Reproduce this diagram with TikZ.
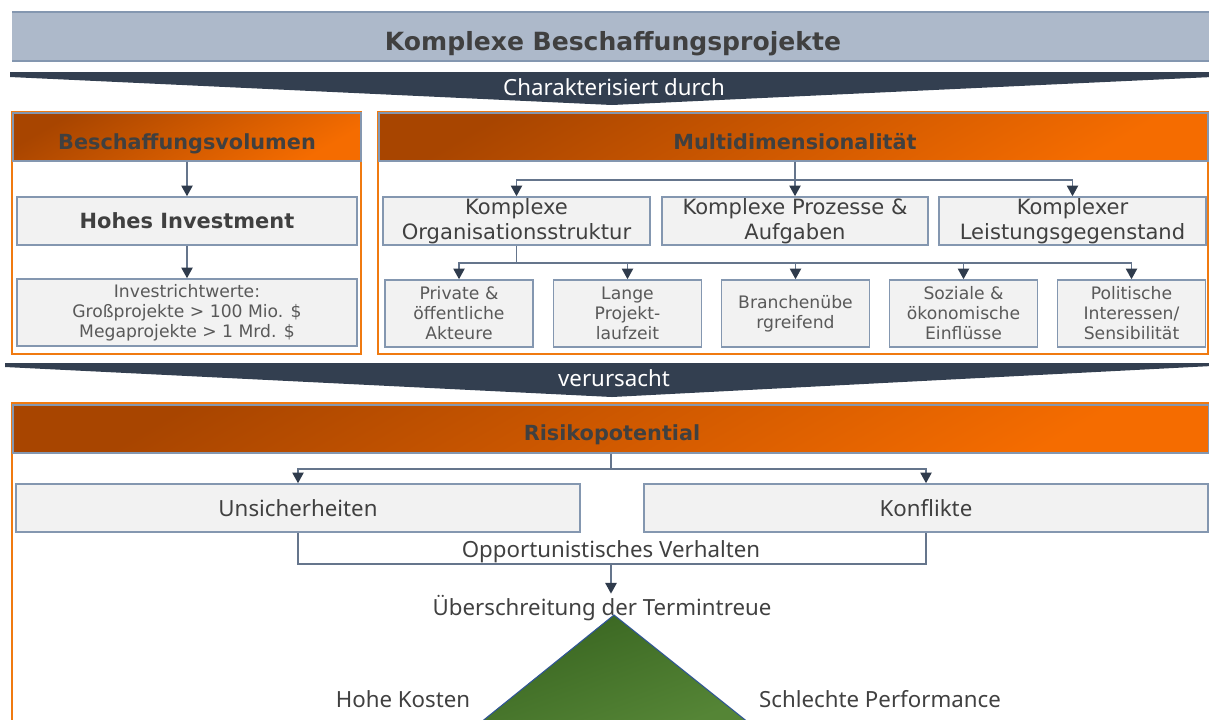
\documentclass[tikz,border=0pt]{standalone}
\usepackage{fontspec}
\setmainfont{DejaVu Sans}
\newfontfamily\seg{Noto Sans}
\usetikzlibrary{arrows.meta,calc}
\definecolor{bannerfill}{HTML}{ADB9CA}
\definecolor{bannerline}{HTML}{8497B0}
\definecolor{chev}{HTML}{333F50}
\definecolor{orD}{HTML}{A84500}
\definecolor{orL}{HTML}{F56C00}
\definecolor{orline}{HTML}{F07A10}
\definecolor{boxfill}{HTML}{F2F2F2}
\definecolor{boxline}{HTML}{8497B0}
\definecolor{txt}{HTML}{404040}
\definecolor{txtl}{HTML}{595959}
\definecolor{lnc}{HTML}{65758C}
\definecolor{arrc}{HTML}{2F3B4C}
\definecolor{grD}{HTML}{386420}
\definecolor{grL}{HTML}{558536}
\definecolor{trib}{HTML}{2F5597}
\begin{document}
\begin{tikzpicture}[x=0.75pt,y=-0.75pt,
  hdr/.style={draw=boxline, line width=1.1pt, top color=orD, bottom color=orL, shading angle=30,
    minimum height=36pt, inner sep=0pt},
  hdrtxt/.style={anchor=base, inner sep=0pt, text=txt, font=\bfseries\fontsize{15.6}{18}\selectfont},
  box/.style={draw=boxline, line width=1.2pt, fill=boxfill, inner sep=0pt, align=center},
  bigbox/.style={box, minimum width=200.25pt, minimum height=36pt, text=txt,
    font=\fontsize{15.8}{18.75}\selectfont},
  smallbox/.style={box, minimum width=111pt, minimum height=50.25pt, text=txtl,
    font=\fontsize{12.9}{15}\selectfont},
  segtxt/.style={inner sep=1pt, text=txt, font=\seg\fontsize{16.7}{20}\selectfont},
  chevtxt/.style={inner sep=1pt, text=white, font=\seg\fontsize{16.7}{20}\selectfont},
  panel/.style={draw=orline, line width=1.5pt},
  ln/.style={draw=lnc, line width=1.1pt},
  arr/.style={ln, -{Triangle[width=8.5pt,length=8pt,color=arrc]}}
]
\useasboundingbox (0,0) rectangle (1209,719);
% banner
\fill[bannerfill] (12,12) rectangle (1212,61);
\draw[bannerline, line width=1.6pt] (12,12) -- (1212,12);
\draw[bannerline, line width=1pt] (12,61) -- (1212,61);
\node[anchor=base, text=txt, inner sep=0pt, font=\bfseries\fontsize{18.8}{22}\selectfont] (title) at (613,50.7) {Komplexe Beschaffungsprojekte};
% chevron 1
\fill[chev] (10,72) -- (1212,72) -- (1212,77) -- (612,105) -- (10,77) -- cycle;
\node[chevtxt] (char) at (614,87) {Charakterisiert durch};
% left panel
\draw[panel] (12,112) rectangle (361,354);
\node[hdr, minimum width=261pt] (bv) at (187,137) {};
\node[hdrtxt] (bvt) at (187,149) {Beschaffungsvolumen};
\node[box, minimum width=255pt, minimum height=36pt, text=txt, font=\bfseries\fontsize{15.7}{18}\selectfont] (inv) at (187,221) {Hohes Investment};
\node[box, minimum width=255pt, minimum height=50.25pt, text=txtl, font=\fontsize{12.9}{15}\selectfont] (iw) at (187,312.5) {Investrichtwerte:\\Großprojekte > 100 Mio. \$\\Megaprojekte > 1 Mrd. \$};
\draw[arr] (bv.south) -- (inv.north);
\draw[arr] (inv.south) -- (iw.north);
% right panel
\draw[panel] (378,112) rectangle (1208,354);
\node[hdr, minimum width=621.75pt] (md) at (793.5,137) {};
\node[hdrtxt] (mdt) at (795,149) {Multidimensionalität};
\node[bigbox] (org) at (516.5,221) {\raisebox{-1.5pt}{\shortstack{Komplexe\\Organisationsstruktur}}};
\node[bigbox, minimum width=199.5pt] (proz) at (795,221) {\raisebox{-1.5pt}{\shortstack{Komplexe Prozesse \&\\Aufgaben}}};
\node[bigbox] (leist) at (1072.5,221) {\raisebox{-1.5pt}{\shortstack{Komplexer\\Leistungsgegenstand}}};
\coordinate (mj) at (795,180);
\draw[arr] (md.south -| proz.north) -- (proz.north);
\draw[arr] (mj) -| (org.north);
\draw[arr] (mj) -| (leist.north);
\node[smallbox] (priv) at (459,313.5) {Private \&\\öffentliche\\Akteure};
\node[smallbox] (lange) at (627.5,313.5) {Lange\\Projekt-\\laufzeit};
\node[smallbox] (branch) at (795.5,313.5) {Branchenübe\\rgreifend};
\node[smallbox] (soz) at (963.5,313.5) {Soziale \&\\ökonomische\\Einflüsse};
\node[smallbox] (pol) at (1131.5,313.5) {Politische\\Interessen/\\Sensibilität};
\coordinate (oj) at (516.5,263);
\draw[ln] (org.south) -- (oj);
\foreach \n in {priv,lange,branch,soz,pol}{\draw[arr] (oj) -| (\n.north);}
% chevron 2
\fill[chev] (5,363) -- (1212,363) -- (1212,366) -- (612,397) -- (5,367) -- cycle;
\node[chevtxt] (verur) at (614,378) {verursacht};
% risk panel
\draw[panel] (12,403) rectangle (1214,730);
\node[hdr, minimum width=897pt] (risk) at (611,429) {};
\node[hdrtxt] (riskt) at (612,440) {Risikopotential};
\node[box, minimum width=423pt, minimum height=36pt, segtxt, inner sep=0pt] (uns) at (298,508) {Unsicherheiten};
\node[box, minimum width=423pt, minimum height=36pt, segtxt, inner sep=0pt] (kon) at (926,508) {Konflikte};
\coordinate (rj) at (611,469);
\draw[ln] (risk.south) -- (rj);
\draw[arr] (rj) -| (uns.north);
\draw[arr] (rj) -| (kon.north);
\node[segtxt] (opp) at (611,551.5) {Opportunistisches Verhalten};
\coordinate (ob) at (611,564);
\draw[ln] (uns.south) |- (ob) -| (kon.south);
\node[segtxt] (ueber) at (602,608) {Überschreitung der Termintreue};
\draw[arr] (ob) -- (ob |- ueber.north);
% triangle
\path[draw=trib, line width=0.8pt, top color=grD, bottom color=grL, shading angle=20] (614,615) -- (749,723) -- (480,723) -- cycle;
\node[segtxt] (kosten) at (403,699) {Hohe Kosten};
\node[segtxt] (perf) at (880,699) {Schlechte Performance};
\end{tikzpicture}
\end{document}
